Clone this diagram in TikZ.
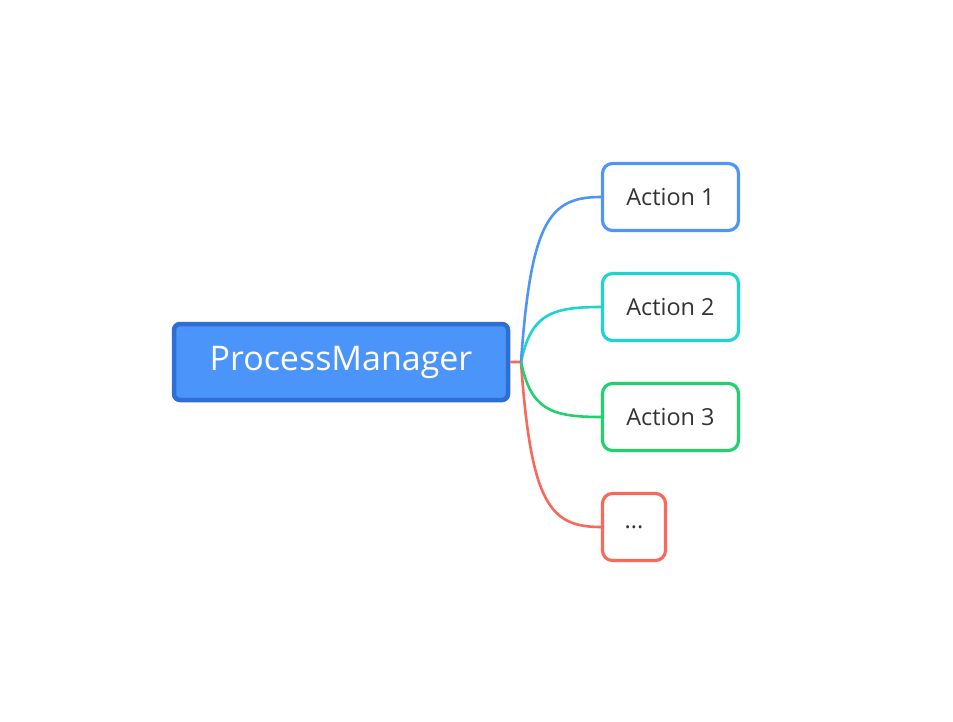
\documentclass[tikz,border=0pt]{standalone}
\usepackage{fontspec}
\setmainfont{Open Sans}
\definecolor{rootfill}{HTML}{4B94F9}
\definecolor{rootline}{HTML}{2F6FD4}
\definecolor{cblue}{HTML}{4F95F7}
\definecolor{ccyan}{HTML}{1FD3CF}
\definecolor{cgreen}{HTML}{22D06E}
\definecolor{cred}{HTML}{F8695C}
\definecolor{txt}{HTML}{333333}
\begin{document}
\begin{tikzpicture}[x=0.03cm, y=-0.03cm,
  root/.style={draw=rootline, fill=rootfill, line width=4.5*0.03cm, rounded corners=6*0.03cm,
    minimum width=334*0.03cm, minimum height=76*0.03cm, text=white, font=\fontsize{29}{31}\selectfont},
  leaf/.style={draw=#1, fill=white, line width=3.2*0.03cm, rounded corners=10*0.03cm,
    minimum width=136*0.03cm, minimum height=67*0.03cm, text=txt, font=\fontsize{20}{22}\selectfont},
  link/.style={draw=#1, line width=2.6*0.03cm}]
\useasboundingbox (0,0) rectangle (953,721);
\node[root] (pm) at (341,362) {ProcessManager};
\coordinate (hub) at (521,362);
\node[leaf=cblue] (act1) at (670.5,197) {Action 1};
\node[leaf=ccyan] (act2) at (670.5,307) {Action 2};
\node[leaf=cgreen] (act3) at (670.5,417) {Action 3};
\node[leaf=cred, minimum width=63*0.03cm] (act4) at (634,527) {...};
\draw[link=cred] (pm.east) -- (hub) .. controls +(10,142) and +(-51,0) .. (act4.west);
\draw[link=cgreen] (hub) .. controls +(10,47) and +(-51,0) .. (act3.west);
\draw[link=ccyan] (hub) .. controls +(10,-47) and +(-51,0) .. (act2.west);
\draw[link=cblue] (hub) .. controls +(10,-142) and +(-51,0) .. (act1.west);
\end{tikzpicture}
\end{document}
